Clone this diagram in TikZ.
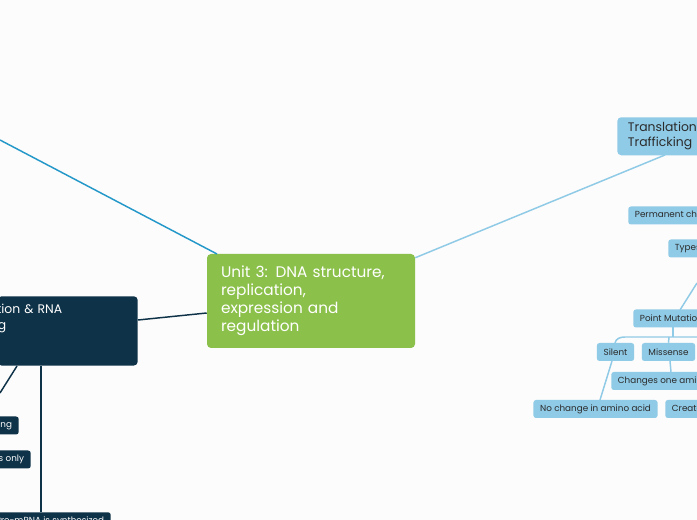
\documentclass[tikz,border=0pt]{standalone}
\usepackage{fontspec}
\setmainfont{Poppins}
\definecolor{leafgreen}{HTML}{8BC04A}
\definecolor{navy}{HTML}{0E3248}
\definecolor{skyblue}{HTML}{8FCAE6}
\definecolor{deepblue}{HTML}{2498C8}
\definecolor{inkgray}{HTML}{2B2B2B}
\tikzset{
  topic/.style={rounded corners=3pt, inner sep=0pt, font=\fontsize{11.5}{13.5}\selectfont, align=left},
  leaf/.style={rounded corners=2pt, fill=skyblue, text=inkgray, font=\fontsize{6.6}{8}\selectfont, minimum height=13.5pt, inner xsep=5pt, inner ysep=0pt},
  darkleaf/.style={leaf, fill=navy, text=white},
  link/.style={line width=1.1pt, skyblue},
}
\begin{document}
\begin{tikzpicture}[x=0.75pt, y=-0.75pt]
    \useasboundingbox (0,0) rectangle (697,520);
    \clip (0,0) rectangle (697,520);
    \fill[white!98!gray] (0,0) rectangle (697,520);

    % main topics
    \node[topic, fill=leafgreen, text=white, minimum width=156pt, minimum height=70.5pt, text width=135pt] (unit) at (311,301) {Unit 3: DNA structure,\\replication,\\expression and\\regulation};
    \node[topic, fill=navy, text=white, font=\fontsize{9.3}{12}\selectfont, minimum height=52pt, text width=105pt, anchor=north east, text depth=33pt] (trans) at (138,296) {\hspace*{-44pt}Transcription \& RNA\\\hspace*{-44pt}Processing};
    \node[topic, fill=skyblue, text=inkgray, font=\fontsize{9.3}{11.5}\selectfont, minimum height=28.5pt, text width=100pt, anchor=north west] (transl) at (617,117) {\hspace*{8pt}Translation \&\\\hspace*{8pt}Trafficking};

    % dark leaves
    \node[darkleaf, anchor=east] (splice) at (19,425.5) {RNA splicing};
    \node[darkleaf, anchor=east] (exons) at (31,459.5) {Exons only};
    \node[darkleaf, anchor=north east] (synth) at (111,512) {Pre-mRNA is synthesized};

    % light leaves
    \node[leaf, anchor=west] (perm) at (628,215.5) {Permanent changes in DNA};
    \node[leaf, anchor=west] (types) at (668,248.5) {Types of mutations};
    \node[leaf, anchor=west] (point) at (633,318.5) {Point Mutations};
    \node[leaf, minimum width=28pt] (silent) at (615.5,352) {Silent};
    \node[leaf, minimum width=40pt] (missense) at (668.5,352) {Missense};
    \node[leaf, anchor=west] (oneaa) at (611,381) {Changes one amino acid};
    \node[leaf] (nochange) at (595.5,409) {No change in amino acid};
    \node[leaf, anchor=west] (stop) at (665,409) {Creates a stop codon};
    \coordinate (offtl) at (0,140);
    \coordinate (offtypes) at (697,283);

    % connectors
    \draw[line width=1.1pt, deepblue] (offtl) -- (217,254);
    \draw[link] (unit.north east) ++(0,4) -- (665,155);
    \draw[line width=1.1pt, navy] (trans.east |- 0,320) -- (unit.west |- 0,313);
    \draw[line width=1.1pt, navy] (17,366) -- (0,393);
    \draw[line width=1.1pt, navy] (41,366) -- (synth.north -| 41,0);
    \draw[link] (offtypes) -- (680,310);
    \draw[link] (673,327) -- (673,337);
    \draw[link] (615,343) to[out=80,in=180] (625,337) -- (697,337);
    \draw[link] (missense.north) -- (669,337);
    \draw[link] (670,361) -- (671,372);
    \draw[link] (612,361) -- (600,400);
\end{tikzpicture}
\end{document}
